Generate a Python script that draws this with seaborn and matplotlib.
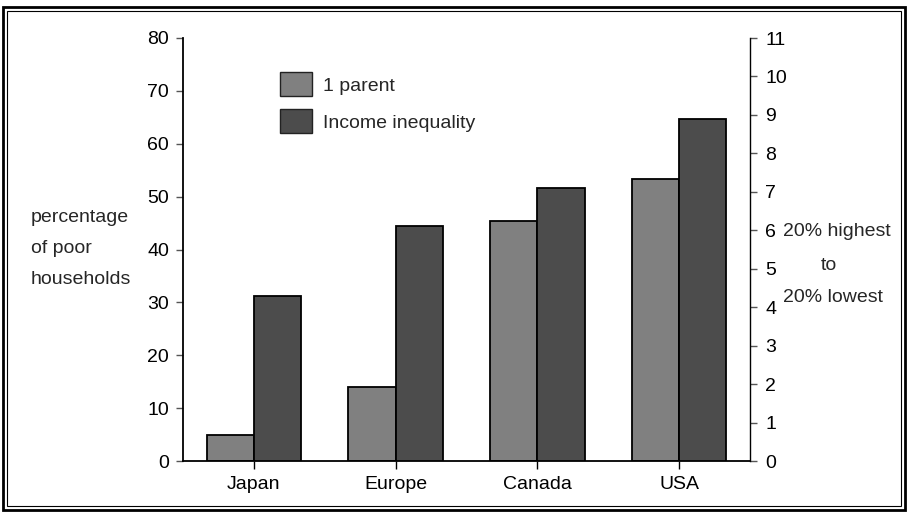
import matplotlib
matplotlib.use("Agg")
import matplotlib.pyplot as plt
from matplotlib.patches import Rectangle, Patch
import pandas as pd
import seaborn as sns

# Data
regions = ["Japan", "Europe", "Canada", "USA"]
one_parent = [5, 14, 45.4, 53.4]        # percentage of poor households (left axis)
income_ratio = [4.3, 6.1, 7.1, 8.9]     # income of 20% highest to 20% lowest (right axis)
series = ["1 parent", "Income inequality"]
left_ticks = list(range(0, 81, 10))
right_ticks = list(range(0, 12))

W, H = 909, 514
FS = 14
LIGHT, DARK = "#808080", "#4c4c4c"

sns.set_theme(style="white")
plt.rcParams["font.family"] = ["Liberation Sans", "DejaVu Sans"]


def fx(px):
    return px / W


def fy(py):
    return 1 - py / H


fig = plt.figure(figsize=(W / 100, H / 100), dpi=100)
fig.patch.set_facecolor("white")
ax = fig.add_axes([fx(183), fy(461), (750 - 183) / W, (461 - 38) / H])
ax2 = ax.twinx()

df_parent = pd.DataFrame({"region": regions, "value": one_parent, "series": series[0]})
df_income = pd.DataFrame({"region": regions, "value": income_ratio, "series": series[1]})
palette = {series[0]: LIGHT, series[1]: DARK}

common = dict(x="region", y="value", hue="series", hue_order=series, order=regions,
              palette=palette, width=0.667, dodge=True, saturation=1,
              edgecolor="black", linewidth=1.3, legend=False)
sns.barplot(data=df_parent, ax=ax, **common)
sns.barplot(data=df_income, ax=ax2, **common)

ax.set_xlim(-0.5, 3.5)
ax.set_ylim(0, 80)
ax2.set_ylim(0, 11)
ax.set_yticks(left_ticks)
ax2.set_yticks(right_ticks)
ax.set_xlabel("")
ax.set_ylabel("")
ax2.set_ylabel("")
ax.grid(False)
ax2.grid(False)

for name, sp in ax.spines.items():
    sp.set_visible(name in ("left", "bottom"))
    sp.set_color("black")
    sp.set_linewidth(1.3)
for name, sp in ax2.spines.items():
    sp.set_visible(name == "right")
    sp.set_color("black")
    sp.set_linewidth(1.0)

ax.tick_params(axis="y", left=True, right=False, direction="out", length=5, width=1,
               color="#555555", labelsize=FS, labelcolor="black", pad=5)
ax.tick_params(axis="x", bottom=True, direction="out", length=6, width=1,
               color="black", labelsize=FS, labelcolor="black", pad=5)
ax2.tick_params(axis="y", right=True, left=False, direction="out", length=5, width=1,
                color="#555555", labelsize=FS, labelcolor="black", pad=6)

# Legend
handles = [Patch(facecolor=LIGHT, edgecolor="#222222", linewidth=1),
           Patch(facecolor=DARK, edgecolor="#222222", linewidth=1)]
fig.legend(handles, series, loc="upper left", bbox_to_anchor=(fx(280), fy(72)),
           bbox_transform=fig.transFigure, frameon=False, fontsize=FS,
           borderpad=0, borderaxespad=0, handlelength=1.65, handleheight=1.55,
           handletextpad=0.55, labelspacing=0.65)

# Axis captions
for text, y in [("percentage", 218), ("of poor", 248), ("households", 279)]:
    fig.text(fx(31), fy(y), text, fontsize=FS, ha="left", va="center")
fig.text(fx(783), fy(232), "20% highest", fontsize=FS, ha="left", va="center")
fig.text(fx(829), fy(265), "to", fontsize=FS, ha="center", va="center")
fig.text(fx(783), fy(297), "20% lowest", fontsize=FS, ha="left", va="center")

# Double frame around the figure
fig.add_artist(Rectangle((fx(3), fy(510)), (905 - 3) / W, (510 - 7) / H,
                         transform=fig.transFigure, fill=False, edgecolor="black",
                         linewidth=2.0))
fig.add_artist(Rectangle((fx(7), fy(506)), (901 - 7) / W, (506 - 11) / H,
                         transform=fig.transFigure, fill=False, edgecolor="black",
                         linewidth=0.8))

fig.savefig("out.png", dpi=100)
